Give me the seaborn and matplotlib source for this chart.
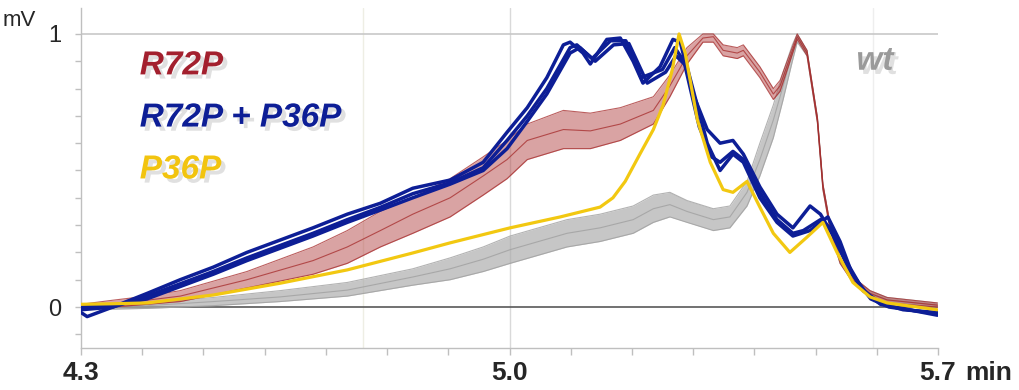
import matplotlib
matplotlib.use("Agg")
import matplotlib.pyplot as plt
import matplotlib.patheffects as pe
import numpy as np
import pandas as pd
import seaborn as sns

# --- data (time in min, signal in mV) ---
wt_t = [4.300, 4.408, 4.516, 4.625, 4.735, 4.842, 4.903, 4.957, 5.001, 5.094, 5.148, 5.202,
        5.235, 5.262, 5.290, 5.333, 5.360, 5.388, 5.409, 5.431, 5.447, 5.462, 5.470, 5.486,
        5.503, 5.512, 5.524, 5.540, 5.561, 5.589, 5.617, 5.699]
wt_mid = [0.0, 0.005, 0.02, 0.037, 0.062, 0.11, 0.14, 0.175, 0.21, 0.27, 0.29, 0.32,
          0.36, 0.375, 0.35, 0.32, 0.33, 0.42, 0.54, 0.685, 0.81, 0.93, 0.99, 0.93,
          0.685, 0.44, 0.29, 0.17, 0.10, 0.05, 0.026, 0.007]
wt_lo = [-0.01, -0.005, 0.005, 0.02, 0.04, 0.08, 0.10, 0.13, 0.16, 0.22, 0.24, 0.27,
         0.31, 0.33, 0.31, 0.28, 0.29, 0.37, 0.48, 0.62, 0.76, 0.90, 0.97, 0.92,
         0.675, 0.43, 0.28, 0.16, 0.09, 0.04, 0.015, 0.0]
wt_hi = [0.01, 0.015, 0.035, 0.06, 0.09, 0.14, 0.18, 0.22, 0.26, 0.32, 0.34, 0.37,
         0.41, 0.42, 0.39, 0.36, 0.37, 0.46, 0.60, 0.74, 0.86, 0.96, 1.0, 0.94,
         0.695, 0.45, 0.30, 0.18, 0.11, 0.06, 0.035, 0.015]

r72p_t = [4.300, 4.352, 4.408, 4.462, 4.571, 4.679, 4.735, 4.789, 4.842, 4.903, 4.957, 4.996,
          5.029, 5.088, 5.132, 5.181, 5.235, 5.262, 5.290, 5.316, 5.333, 5.349, 5.372, 5.382,
          5.409, 5.431, 5.442, 5.470, 5.486, 5.503, 5.512, 5.524, 5.540, 5.561, 5.589, 5.617, 5.699]
r72p_mid = [0.0, 0.01, 0.025, 0.04, 0.10, 0.17, 0.22, 0.28, 0.34, 0.40, 0.48, 0.54,
            0.61, 0.65, 0.645, 0.67, 0.72, 0.81, 0.92, 0.985, 0.99, 0.94, 0.93, 0.94,
            0.86, 0.78, 0.81, 0.99, 0.93, 0.685, 0.44, 0.29, 0.17, 0.10, 0.05, 0.026, 0.007]
r72p_lo = [-0.01, 0.0, 0.01, 0.02, 0.07, 0.12, 0.16, 0.22, 0.27, 0.33, 0.41, 0.47,
           0.54, 0.58, 0.58, 0.61, 0.67, 0.77, 0.89, 0.97, 0.97, 0.92, 0.91, 0.92,
           0.84, 0.76, 0.79, 0.98, 0.92, 0.675, 0.43, 0.28, 0.16, 0.09, 0.04, 0.015, 0.0]
r72p_hi = [0.01, 0.025, 0.04, 0.06, 0.13, 0.22, 0.28, 0.35, 0.40, 0.47, 0.55, 0.61,
           0.67, 0.72, 0.71, 0.73, 0.77, 0.85, 0.95, 1.0, 1.0, 0.96, 0.95, 0.96,
           0.88, 0.80, 0.83, 1.0, 0.94, 0.695, 0.45, 0.30, 0.18, 0.11, 0.06, 0.035, 0.015]

p36p_t = [4.300, 4.352, 4.408, 4.516, 4.625, 4.735, 4.842, 4.903, 5.001, 5.083, 5.148, 5.169,
          5.189, 5.213, 5.235, 5.251, 5.266, 5.277, 5.287, 5.307, 5.328, 5.349, 5.365, 5.388,
          5.409, 5.431, 5.458, 5.486, 5.512, 5.535, 5.561, 5.589, 5.617, 5.699]
p36p_mv = [0.01, 0.012, 0.015, 0.044, 0.087, 0.136, 0.198, 0.235, 0.29, 0.33, 0.366, 0.40,
           0.46, 0.56, 0.65, 0.74, 0.87, 1.0, 0.93, 0.685, 0.53, 0.43, 0.42, 0.46,
           0.366, 0.27, 0.20, 0.256, 0.31, 0.20, 0.09, 0.037, 0.015, -0.01]

# three replicate runs of R72P + P36P
dbl_a_t = [4.300, 4.310, 4.352, 4.408, 4.462, 4.516, 4.571, 4.625, 4.679, 4.735, 4.789, 4.842,
           4.903, 4.957, 4.996, 5.029, 5.061, 5.088, 5.099, 5.120, 5.132, 5.159, 5.181, 5.202,
           5.218, 5.246, 5.267, 5.279, 5.300, 5.323, 5.344, 5.365, 5.382, 5.409, 5.437, 5.463,
           5.491, 5.508, 5.529, 5.552, 5.578, 5.606, 5.643, 5.699]
dbl_a_mv = [-0.02, -0.035, 0.0, 0.05, 0.10, 0.146, 0.20, 0.245, 0.29, 0.34, 0.38, 0.435,
            0.465, 0.53, 0.64, 0.73, 0.84, 0.96, 0.97, 0.93, 0.89, 0.98, 0.985, 0.90,
            0.82, 0.88, 0.98, 0.97, 0.78, 0.65, 0.60, 0.61, 0.56, 0.44, 0.34, 0.29,
            0.37, 0.34, 0.26, 0.15, 0.06, 0.015, -0.01, -0.02]
dbl_b_t = [4.300, 4.352, 4.408, 4.462, 4.516, 4.571, 4.625, 4.679, 4.735, 4.789, 4.842, 4.903,
           4.957, 4.996, 5.029, 5.061, 5.099, 5.115, 5.140, 5.170, 5.195, 5.225, 5.255, 5.272,
           5.290, 5.323, 5.344, 5.365, 5.382, 5.409, 5.437, 5.463, 5.491, 5.520, 5.540, 5.560,
           5.590, 5.620, 5.699]
dbl_b_mv = [0.0, 0.005, 0.03, 0.075, 0.12, 0.17, 0.215, 0.26, 0.31, 0.355, 0.40, 0.45,
            0.50, 0.58, 0.68, 0.78, 0.93, 0.95, 0.90, 0.96, 0.965, 0.82, 0.86, 0.92,
            0.88, 0.60, 0.50, 0.56, 0.53, 0.40, 0.31, 0.26, 0.28, 0.33, 0.24, 0.12,
            0.03, 0.0, -0.025]
dbl_c_t = [4.300, 4.352, 4.408, 4.462, 4.516, 4.571, 4.625, 4.679, 4.735, 4.789, 4.842, 4.903,
           4.957, 4.996, 5.029, 5.061, 5.099, 5.110, 5.135, 5.165, 5.190, 5.215, 5.250, 5.270,
           5.285, 5.310, 5.330, 5.344, 5.365, 5.382, 5.409, 5.437, 5.463, 5.480, 5.508, 5.529,
           5.552, 5.578, 5.606, 5.699]
dbl_c_mv = [-0.01, 0.0, 0.04, 0.085, 0.13, 0.18, 0.225, 0.27, 0.32, 0.365, 0.415, 0.455,
            0.51, 0.61, 0.70, 0.80, 0.95, 0.96, 0.91, 0.975, 0.975, 0.84, 0.87, 0.95,
            0.90, 0.66, 0.55, 0.53, 0.57, 0.54, 0.42, 0.32, 0.27, 0.28, 0.32, 0.28,
            0.16, 0.06, 0.01, -0.03]

labels = ["R72P", "R72P + P36P", "P36P"]
label_colors = ["#A3202E", "#0D1E96", "#F2C40F"]

RED = "#A52A2A"
BLUE = "#0D1E96"
GOLD = "#F2C811"
GRAY = "#A0A0A0"

sns.set_style("white")
plt.rcParams["font.family"] = ["Liberation Sans", "DejaVu Sans"]

fig = plt.figure(figsize=(10.19, 3.9), dpi=100)
ax = fig.add_axes([81 / 1019, 42 / 390, 857 / 1019, 340 / 390])

# faint grid
ax.axvline(4.76, color="#EEEEE4", lw=1, zorder=0)
ax.axvline(5.0, color="#D9D9D9", lw=1, zorder=0)
ax.axvline(5.594, color="#EEEEEE", lw=1, zorder=0)
ax.axhline(1.0, color="#C8C8C8", lw=1.2, zorder=0)
ax.axhline(0.0, color="#595959", lw=1.2, zorder=1)

# wt bundle
ax.fill_between(wt_t, wt_lo, wt_hi, color="#A8A8A8", alpha=0.65, lw=0, zorder=2)
for ys in (wt_lo, wt_mid, wt_hi):
    sns.lineplot(x=wt_t, y=ys, ax=ax, color=GRAY, lw=0.8, alpha=0.8,
                 estimator=None, sort=False, zorder=2)

# R72P bundle
ax.fill_between(r72p_t, r72p_lo, r72p_hi, color="#B54848", alpha=0.5, lw=0, zorder=3)
for ys in (r72p_lo, r72p_mid, r72p_hi):
    sns.lineplot(x=r72p_t, y=ys, ax=ax, color=RED, lw=0.8, alpha=0.75,
                 estimator=None, sort=False, zorder=3)

# R72P + P36P replicates
for tt, ys in ((dbl_a_t, dbl_a_mv), (dbl_b_t, dbl_b_mv), (dbl_c_t, dbl_c_mv)):
    sns.lineplot(x=tt, y=ys, ax=ax, color=BLUE, lw=2.5,
                 estimator=None, sort=False, zorder=4)

# P36P
sns.lineplot(x=p36p_t, y=p36p_mv, ax=ax, color=GOLD, lw=2.3,
             estimator=None, sort=False, zorder=5)

ax.set_xlim(4.3, 5.7)
ax.set_ylim(-0.15, 1.095)
ax.set_xlabel("")
ax.set_ylabel("")

xt = np.round(np.arange(4.3, 5.71, 0.1), 1)
ax.set_xticks(xt)
ax.set_xticklabels([f"{v:.1f}" if v in (4.3, 5.0, 5.7) else "" for v in xt],
                   fontsize=19, fontweight="bold")
yt = np.round(np.arange(-0.1, 1.01, 0.1), 1)
ax.set_yticks(yt)
ax.set_yticklabels(["0" if v == 0 else ("1" if v == 1 else "") for v in yt], fontsize=17)

ax.tick_params(axis="x", length=5, width=1, color="#BFBFBF", pad=4, bottom=True)
ax.tick_params(axis="y", length=4, width=1, color="#BFBFBF", pad=10, left=True)
for side in ("top", "right"):
    ax.spines[side].set_visible(False)
for side in ("left", "bottom"):
    ax.spines[side].set_color("#BFBFBF")
    ax.spines[side].set_linewidth(1)

fig.text(3 / 1019, 1 - 21 / 390, "mV", fontsize=16, ha="left", va="center")
fig.text(965 / 1019, 1 - 373 / 390, "min", fontsize=19, fontweight="bold",
         ha="left", va="center")

shadow = [pe.SimplePatchShadow(offset=(3, -3), shadow_rgbFace="#999999", alpha=0.3),
          pe.Normal()]
for lab, col, yv in zip(labels, label_colors, (0.883, 0.692, 0.502)):
    ax.text(4.396, yv, lab, color=col, fontsize=24, fontweight="bold", style="italic",
            ha="left", va="center", path_effects=shadow, zorder=6)
ax.text(5.597, 0.90, "wt", color="#9A9A9A", fontsize=24, fontweight="bold", style="italic",
        ha="center", va="center", path_effects=shadow, zorder=6)

fig.savefig("out.png", dpi=100)
